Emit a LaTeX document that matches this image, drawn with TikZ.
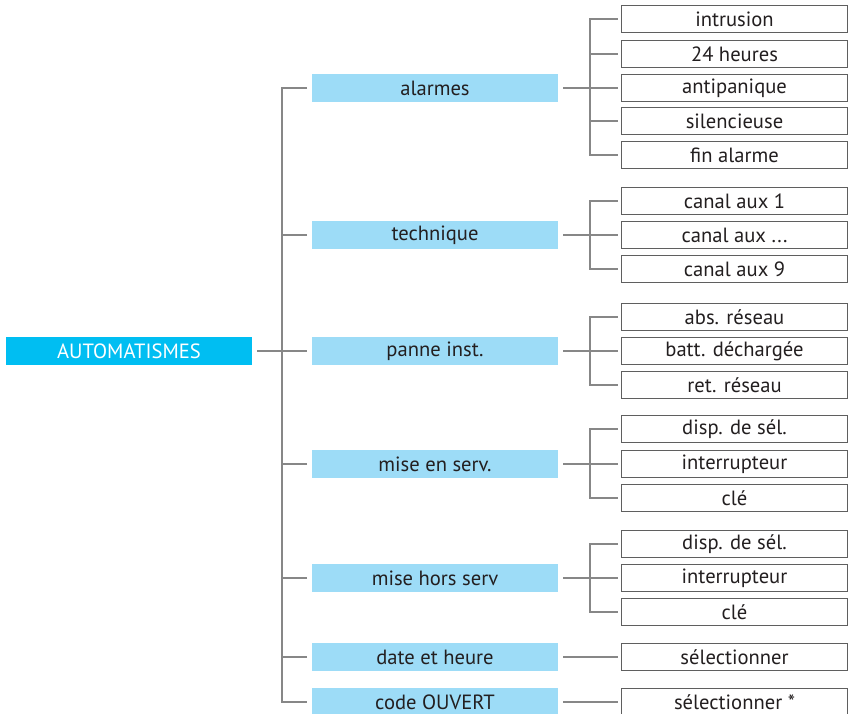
\documentclass[tikz,border=0pt]{standalone}
\usepackage{fontspec}
\setmainfont{PT Sans}
\usetikzlibrary{positioning,calc}
\definecolor{autoblue}{RGB}{0,190,242}
\definecolor{menublue}{RGB}{157,220,247}
\definecolor{linegray}{RGB}{135,135,135}
\definecolor{boxgray}{RGB}{95,95,95}
\definecolor{textgray}{RGB}{35,31,32}

\begin{document}
\begin{tikzpicture}[x=0.5pt,y=-0.5pt,
  root/.style={fill=autoblue,text=white,minimum width=123pt,minimum height=14pt,inner sep=0pt,outer sep=2.5pt,font=\fontsize{10.3}{12}\selectfont},
  menu/.style={fill=menublue,text=textgray,minimum width=123pt,minimum height=14pt,inner sep=0pt,outer sep=2.5pt,font=\fontsize{10.3}{12}\selectfont},
  item/.style={draw=boxgray,line width=0.5pt,fill=white,text=textgray,minimum width=113pt,minimum height=13.5pt,inner sep=0pt,outer sep=2pt,font=\fontsize{10.3}{12}\selectfont},
  tree/.style={draw=linegray,line width=0.65pt}]
  \useasboundingbox (0,0) rectangle (857,713); % 画像の大きさ
  \coordinate (tx) at (282,0); % 幹の縦線の位置
  \coordinate (bx) at (590,0); % 枝の縦線の位置

  \node[root] (auto) at (129,351) {AUTOMATISMES}; % 根
  \node[menu] (alarmes) at (435,88) {alarmes};
  \node[menu] (technique) at (435,235) {technique};
  \node[menu] (panne) at (435,351) {panne inst.};
  \node[menu] (mise) at (435,464) {mise en serv.};
  \node[menu] (hors) at (435,578) {mise hors serv};
  \node[menu] (date) at (435,657) {date et heure};
  \node[menu] (code) at (435,702) {code OUVERT};

  \node[item] (intrusion) at (734.5,19) {intrusion};
  \node[item] (heures) at (734.5,54) {24 heures};
  \node[item] (antipanique) at (734.5,88) {antipanique};
  \node[item] (silencieuse) at (734.5,121) {silencieuse};
  \node[item] (fin) at (734.5,155) {fin alarme};
  \node[item] (canalA) at (734.5,201) {canal aux 1};
  \node[item] (canalB) at (734.5,235) {canal aux ...};
  \node[item] (canalC) at (734.5,269) {canal aux 9};
  \node[item] (abs) at (734.5,317) {abs. réseau};
  \node[item] (batt) at (734.5,351) {batt. déchargée};
  \node[item] (ret) at (734.5,385) {ret. réseau};
  \node[item] (dispA) at (734.5,429) {disp. de sél.};
  \node[item] (interA) at (734.5,464) {interrupteur};
  \node[item] (cleA) at (734.5,498) {clé};
  \node[item] (dispB) at (734.5,544) {disp. de sél.};
  \node[item] (interB) at (734.5,578) {interrupteur};
  \node[item] (cleB) at (734.5,612) {clé};
  \node[item] (selA) at (734.5,657) {sélectionner};
  \node[item] (selB) at (734.5,702) {sélectionner *};

  \draw[tree] (auto.east) -- (panne.west); % 根から幹へ
  \draw[tree] (alarmes.west) -- (alarmes.west -| tx) -- (code.west -| tx) -- (code.west); % 幹
  \foreach \m in {technique,mise,hors,date}
    \draw[tree] (\m.west) -- (\m.west -| tx);

  \draw[tree] (alarmes.east) -- (antipanique.west); % alarmes の枝
  \draw[tree] (intrusion.west) -- (intrusion.west -| bx) -- (fin.west -| bx) -- (fin.west);
  \foreach \l in {heures,silencieuse}
    \draw[tree] (\l.west) -- (\l.west -| bx);

  \draw[tree] (technique.east) -- (canalB.west); % technique の枝
  \draw[tree] (canalA.west) -- (canalA.west -| bx) -- (canalC.west -| bx) -- (canalC.west);

  \draw[tree] (panne.east) -- (batt.west); % panne inst. の枝
  \draw[tree] (abs.west) -- (abs.west -| bx) -- (ret.west -| bx) -- (ret.west);

  \draw[tree] (mise.east) -- (interA.west); % mise en serv. の枝
  \draw[tree] (dispA.west) -- (dispA.west -| bx) -- (cleA.west -| bx) -- (cleA.west);

  \draw[tree] (hors.east) -- (interB.west); % mise hors serv の枝
  \draw[tree] (dispB.west) -- (dispB.west -| bx) -- (cleB.west -| bx) -- (cleB.west);

  \draw[tree] (date.east) -- (selA.west); % 1対1の枝
  \draw[tree] (code.east) -- (selB.west);
\end{tikzpicture}
\end{document}
